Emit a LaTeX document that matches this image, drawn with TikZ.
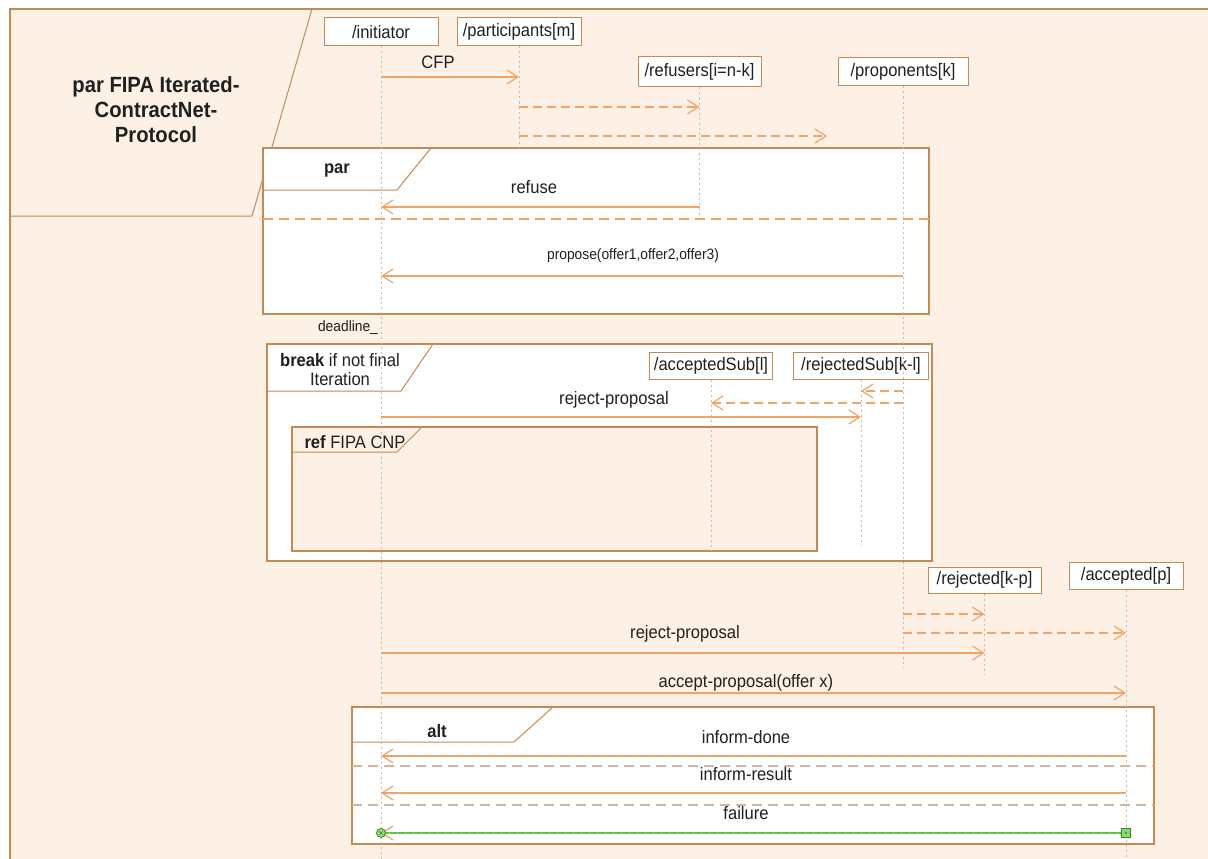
\documentclass[tikz,border=0pt]{standalone}
\usepackage{fontspec}
\setmainfont{Liberation Sans}[FakeStretch=0.92]
\usetikzlibrary{arrows.meta,calc}
\definecolor{peach}{HTML}{FDF0E4}
\definecolor{framec}{HTML}{C48A55}
\definecolor{msgc}{HTML}{F0A468}
\definecolor{lifec}{HTML}{D2B6A6}
\definecolor{sepc}{HTML}{D8B49A}
\definecolor{txtc}{HTML}{202020}
\definecolor{selgreen}{HTML}{62C23C}
\definecolor{selgreendark}{HTML}{2F8A22}
\newcommand\msgfont{\fontsize{18}{19}\selectfont}
\newcommand\smallmsgfont{\fontsize{15}{17}\selectfont}
\begin{document}
\begin{tikzpicture}[x=1pt,y=-1pt,
  frag/.style={draw=framec,line width=1.1pt,fill=white},
  tabline/.style={draw=framec,line width=1pt},
  lifehead/.style={draw=framec,line width=1pt,fill=white,inner sep=0pt,
    minimum height=28pt,font=\msgfont,text=txtc},
  lifeline/.style={draw=lifec,line width=1pt,dash pattern=on 2pt off 3pt},
  msg/.style={draw=msgc,line width=1.2pt,-{Straight Barb[length=11pt,width=14pt]}},
  reply/.style={msg,dash pattern=on 9pt off 5pt},
  lbl/.style={font=\msgfont,text=txtc,inner sep=0pt},
  smalllbl/.style={font=\smallmsgfont,text=txtc,inner sep=0pt},
  sep/.style={line width=1.1pt,dash pattern=on 10pt off 6pt},
]
\useasboundingbox (0,0) rectangle (1208,859);
\fill[white] (0,0) rectangle (1208,859);

% outer interaction frame
\fill[peach] (10,9) rectangle (1208,859);
\draw[framec,line width=1.2pt] (10,859) -- (10,9) -- (1208,9);
\draw[tabline] (10,216) -- (252,216) -- (312,9);
\node[font=\fontsize{22}{25}\selectfont\bfseries,align=center,text=txtc,inner sep=0pt]
  (title) at (156,110) {par FIPA Iterated-\\ContractNet-\\Protocol};

% combined fragments
\draw[frag] (263,148) rectangle (929,314);
\draw[tabline] (263,190) -- (397,190) -- (431,148);
\node[lbl,font=\msgfont\bfseries] (partag) at (337,171) {par};
\draw[sep,draw=msgc] (263,219) -- (929,219);

\draw[frag] (267,344) rectangle (932,561);
\draw[tabline] (267,391) -- (401,391) -- (433,344);
\node[lbl,align=center] (brktag) at (340,370) {\textbf{break} if not final\\Iteration};

\draw[draw=framec,line width=1.1pt,fill=peach] (292,427) rectangle (817,551);
\draw[tabline] (292,452) -- (397,452) -- (422,427);
\node[lbl] (reftag) at (355,442) {\textbf{ref} FIPA CNP};

\draw[frag] (352,707) rectangle (1154,844);
\draw[tabline] (352,742) -- (514,742) -- (553,707);
\node[lbl,font=\msgfont\bfseries] (alttag) at (437,731) {alt};
\draw[sep,draw=sepc] (352,766) -- (1154,766);
\draw[sep,draw=sepc] (352,805) -- (1154,805);

% lifeline heads
\node[lifehead,minimum width=114pt] (ini) at (381,32) {/initiator};
\node[lifehead,minimum width=124pt] (part) at (519,32) {/participants[m]};
\node[lifehead,minimum width=123pt,minimum height=30pt] (refu) at (699.5,72) {/refusers[i=n-k]};
\node[lifehead,minimum width=130pt] (prop) at (903,72) {/proponents[k]};
\node[lifehead,minimum width=123pt,minimum height=27pt] (accs) at (711,365.5) {/acceptedSub[l]};
\node[lifehead,minimum width=135pt,minimum height=27pt] (rejs) at (861,365.5) {/rejectedSub[k-l]};
\node[lifehead,minimum width=113pt,minimum height=26pt] (rej) at (984.5,580) {/rejected[k-p]};
\node[lifehead,minimum width=114pt,minimum height=27pt] (acc) at (1126,575.5) {/accepted[p]};

% lifelines
\draw[lifeline] (ini.south) -- (ini.south |- 0,859);
\draw[lifeline] (part.south) -- (part.south |- 0,147);
\draw[lifeline] (refu.south) -- (refu.south |- 0,218);
\draw[lifeline] (prop.south) -- (prop.south |- 0,668);
\draw[lifeline] (accs.south) -- (accs.south |- 0,550);
\draw[lifeline] (rejs.south) -- (rejs.south |- 0,545);
\draw[lifeline] (rej.south) -- (rej.south |- 0,675);
\draw[lifeline] (acc.south) -- (acc.south |- 0,859);

% call for proposals
\draw[msg] (ini.south |- 0,77) -- (part.south |- 0,77);
\node[lbl] (lcfp) at (438,62) {CFP};
\draw[reply] (part.south |- 0,107) -- (refu.south |- 0,107);
\coordinate (cfpfwd) at (827,136);
\draw[reply] (part.south |- 0,136) -- (cfpfwd);

% par fragment messages
\draw[msg] (refu.south |- 0,207) -- (ini.south |- 0,207);
\node[lbl] (lrefuse) at (534,187) {refuse};
\draw[msg] (prop.south |- 0,276) -- (ini.south |- 0,276);
\node[smalllbl] (lpropose) at (633,256) {propose(offer1,offer2,offer3)};
\node[smalllbl] (ldeadline) at (348,328) {deadline\_};

% break fragment messages
\draw[reply] (prop.south |- 0,391) -- (rejs.south |- 0,391);
\draw[reply] (prop.south |- 0,403) -- (accs.south |- 0,403);
\draw[msg] (ini.south |- 0,417) -- (rejs.south |- 0,417);
\node[lbl] (lrejsub) at (614,400) {reject-proposal};

% final decisions
\draw[reply] (prop.south |- 0,614) -- (rej.south |- 0,614);
\draw[reply] (prop.south |- 0,633) -- (acc.south |- 0,633);
\draw[msg] (ini.south |- 0,653) -- (rej.south |- 0,653);
\node[lbl] (lreject) at (685,634) {reject-proposal};
\draw[msg] (ini.south |- 0,693) -- (acc.south |- 0,693);
\node[lbl] (laccept) at (746,683) {accept-proposal(offer x)};

% alt fragment messages
\draw[msg] (acc.south |- 0,756) -- (ini.south |- 0,756);
\node[lbl] (ldone) at (746,737) {inform-done};
\draw[msg] (acc.south |- 0,793) -- (ini.south |- 0,793);
\node[lbl] (lresult) at (746,774) {inform-result};
\coordinate (fsrc) at (acc.south |- 0,833);
\coordinate (fdst) at (ini.south |- 0,833);
\draw[msg] (fsrc) -- (fdst);
\draw[selgreen,line width=1.3pt] (fsrc) -- (fdst);
\draw[selgreen!40!white,line width=0.8pt,dash pattern=on 1pt off 7pt] (fsrc) -- (fdst);
\node[lbl] (lfailure) at (746,813) {failure};
\node[circle,draw=selgreendark,fill=selgreen!60!white,minimum size=9pt,inner sep=0pt,line width=0.8pt]
  (fstart) at (fdst) {};
\draw[selgreendark,line width=0.6pt] ($(fstart.center)+(-2,-2)$) -- ($(fstart.center)+(2,2)$);
\draw[selgreendark,line width=0.6pt] ($(fstart.center)+(-2,2)$) -- ($(fstart.center)+(2,-2)$);
\node[draw=selgreendark,fill=selgreen!70!white,minimum size=9pt,inner sep=0pt,line width=0.8pt]
  (fend) at (fsrc) {};
\fill[selgreendark] (fend.center) circle (1.2pt);
\end{tikzpicture}
\end{document}
